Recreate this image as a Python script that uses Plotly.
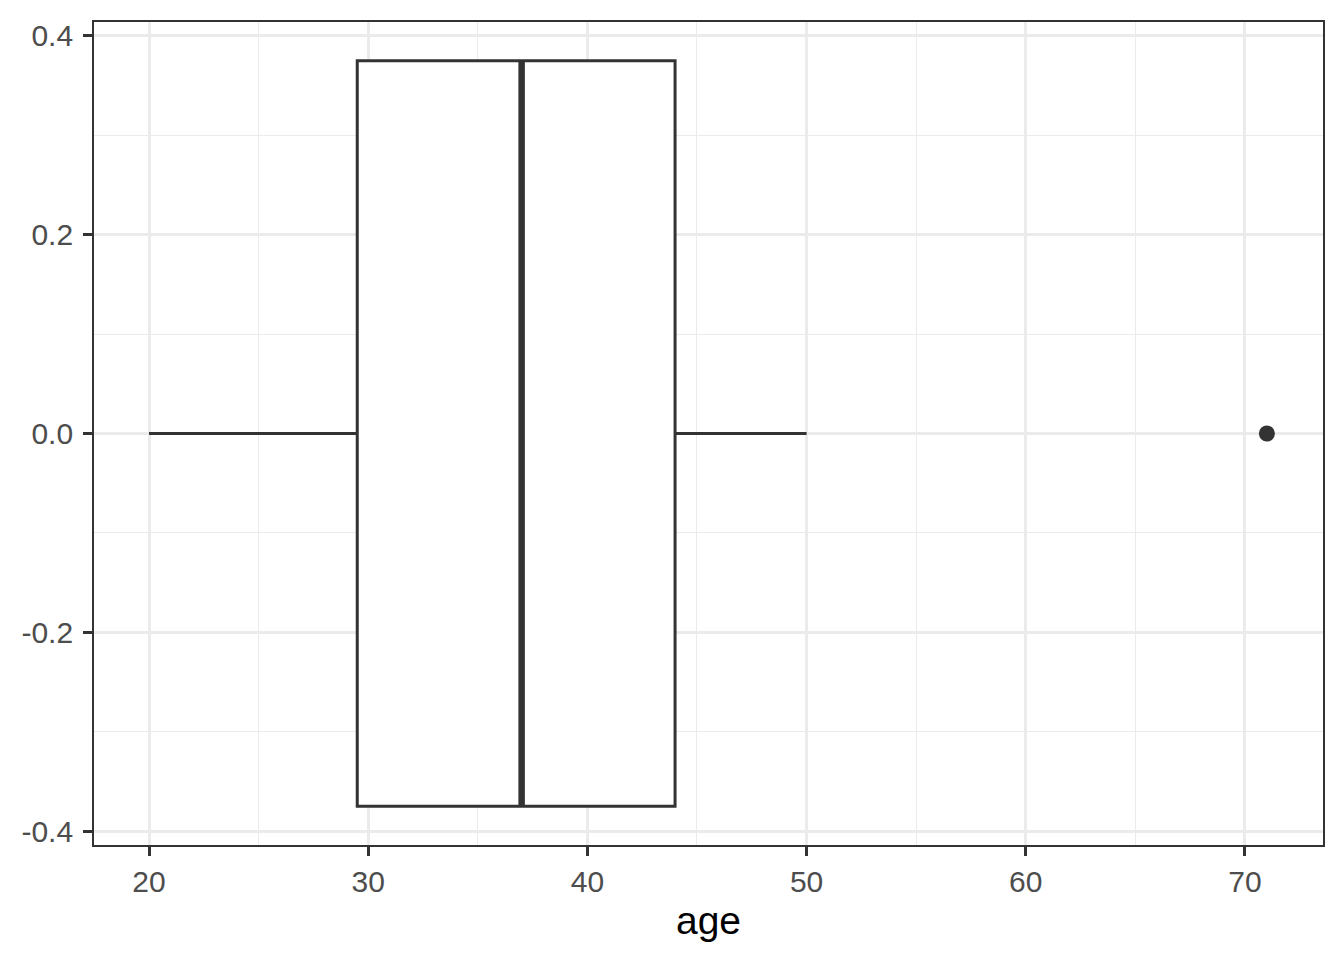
import plotly.graph_objects as go

# box stats for age
age_min = [20]
age_q1 = [29.5]
age_median = [37]
age_q3 = [44]
age_max = [50]
age_outliers = [71]
box_pos = [0]
box_width = 0.75

ink = '#333333'

fig = go.Figure()

# box + whiskers, horizontal
fig.add_trace(go.Box(
    y=box_pos, q1=age_q1, median=age_median, q3=age_q3,
    lowerfence=age_min, upperfence=age_max,
    orientation='h', width=box_width, whiskerwidth=0,
    fillcolor='white', line=dict(color=ink, width=3),
    boxpoints=False, hoverinfo='skip'
))

# thick median line like ggplot (fatten)
fig.add_trace(go.Scatter(
    x=[age_median[0], age_median[0]],
    y=[box_pos[0] - box_width / 2, box_pos[0] + box_width / 2],
    mode='lines', line=dict(color=ink, width=6.5), hoverinfo='skip'
))

# outliers
fig.add_trace(go.Scatter(
    x=age_outliers, y=[box_pos[0]] * len(age_outliers),
    mode='markers', marker=dict(color=ink, size=16), hoverinfo='skip'
))

axis_common = dict(
    showline=True, mirror=True, linecolor=ink, linewidth=1.8,
    ticks='outside', ticklen=9, tickwidth=2.6, tickcolor=ink,
    showgrid=True, gridcolor='#EBEBEB', gridwidth=2.8,
    zeroline=False,
    tickfont=dict(family='Liberation Sans, Arial', size=30, color='#4D4D4D'),
)

fig.update_xaxes(
    range=[17.49, 73.56], tickvals=[20, 30, 40, 50, 60, 70],
    minor=dict(tickvals=[25, 35, 45, 55, 65], showgrid=True,
               gridcolor='#EBEBEB', gridwidth=1.4, ticks=''),
    title=dict(text='age', standoff=10,
               font=dict(family='Liberation Sans, Arial', size=39, color='black')),
    **axis_common
)
fig.update_yaxes(
    range=[-0.414, 0.414], tickvals=[-0.4, -0.2, 0, 0.2, 0.4],
    ticktext=['-0.4', '-0.2', '0.0', '0.2', '0.4'],
    minor=dict(tickvals=[-0.3, -0.1, 0.1, 0.3], showgrid=True,
               gridcolor='#EBEBEB', gridwidth=1.4, ticks=''),
    ticklabelstandoff=4,
    **axis_common
)

fig.update_layout(
    width=1344, height=960,
    margin=dict(l=86, r=29, t=11, b=123),
    plot_bgcolor='white', paper_bgcolor='white',
    showlegend=False,
)

fig.write_html("out.html")
